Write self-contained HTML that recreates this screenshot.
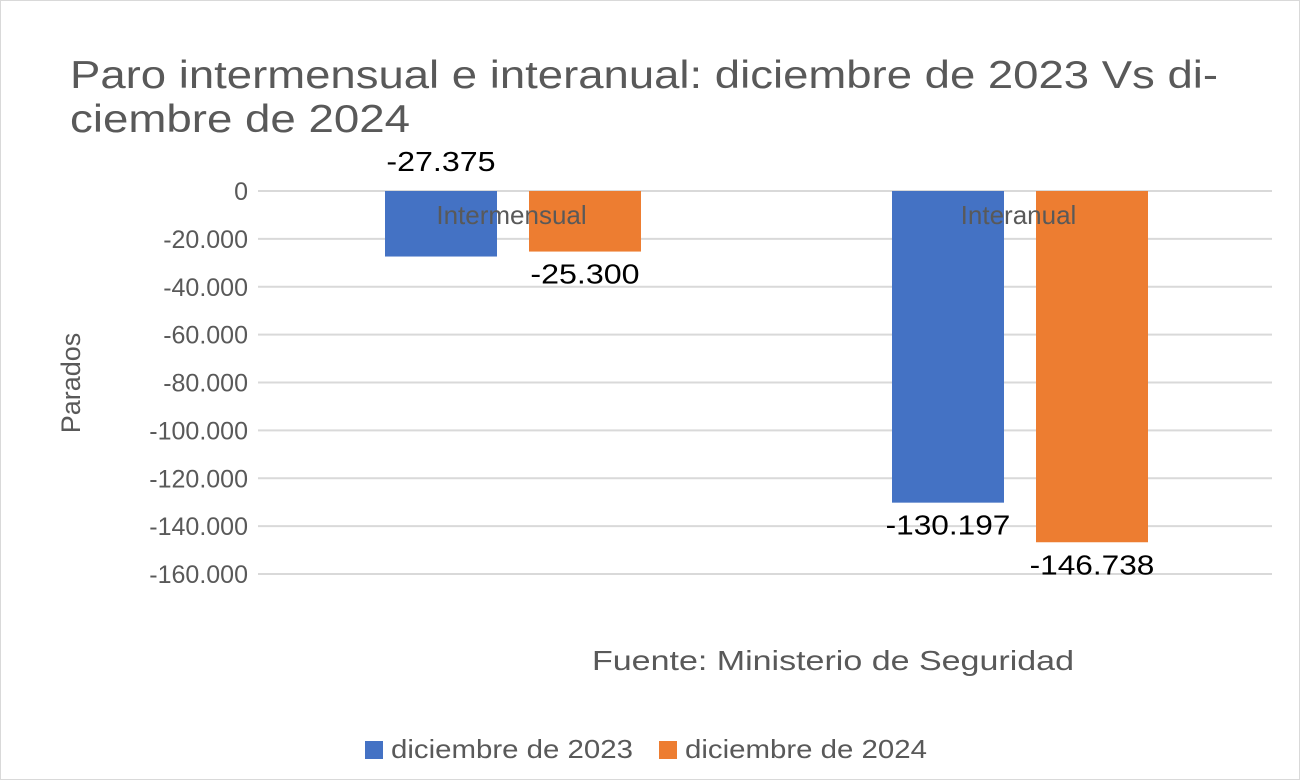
<!DOCTYPE html>
<html><head><meta charset="utf-8"><style>
body{margin:0;background:#fff;}
svg{display:block;font-family:"Liberation Sans",sans-serif;}
</style></head><body>
<svg id="chart" width="1300" height="780" viewBox="0 0 1300 780">
<rect x="0.5" y="0.5" width="1299" height="779" fill="#fff" stroke="#d9d9d9"/>
<text x="70" y="88" font-size="39" fill="#595959" textLength="1148" lengthAdjust="spacingAndGlyphs">Paro intermensual e interanual: diciembre de 2023 Vs di-</text>
<text x="70" y="132" font-size="39" fill="#595959" textLength="340" lengthAdjust="spacingAndGlyphs">ciembre de 2024</text>
<text transform="translate(80,383) rotate(-90)" text-anchor="middle" font-size="27" fill="#595959">Parados</text>
<g id="grid"></g><g id="bars"></g><g id="labels"></g>
<text x="592" y="670" font-size="28" fill="#595959" textLength="482" lengthAdjust="spacingAndGlyphs">Fuente: Ministerio de Seguridad</text>
<g>
<rect x="365" y="741" width="18" height="18" fill="#4472c4"/>
<text x="391" y="758" font-size="26" fill="#595959" textLength="242" lengthAdjust="spacingAndGlyphs">diciembre de 2023</text>
<rect x="659" y="741" width="18" height="18" fill="#ed7d31"/>
<text x="685" y="758" font-size="26" fill="#595959" textLength="242" lengthAdjust="spacingAndGlyphs">diciembre de 2024</text>
</g>
</svg>
<script>
const categories=["Intermensual","Interanual"];
const series2023=[-27375,-130197];
const series2024=[-25300,-146738];
const valueLabels2023=["-27.375","-130.197"];
const valueLabels2024=["-25.300","-146.738"];
const tickValues=[0,-20000,-40000,-60000,-80000,-100000,-120000,-140000,-160000];
const tickLabels=["0","-20.000","-40.000","-60.000","-80.000","-100.000","-120.000","-140.000","-160.000"];
const NS="http://www.w3.org/2000/svg";
const x0=258,x1=1272,y0=191,y1=574,vmin=-160000;
const y=v=>y0+(v/vmin)*(y1-y0);
const bw=(x1-x0)/categories.length;
function mk(t,a,p){const e=document.createElementNS(NS,t);for(const k in a)e.setAttribute(k,a[k]);p.appendChild(e);return e;}
const grid=document.getElementById('grid'),bars=document.getElementById('bars'),labels=document.getElementById('labels');
tickValues.forEach((v,i)=>{
 const l=mk('line',{x1:x0,x2:x1,y1:y(v),y2:y(v),stroke:'#d9d9d9','stroke-width':2},grid);
 
 
 const t=mk('text',{x:248,y:y(v)+9,'text-anchor':'end','font-size':25,fill:'#595959'},grid);
 t.textContent=tickLabels[i];
 
 
});
categories.forEach((c,i)=>{
 const cx=x0+bw*(i+0.5);
 [[series2023,valueLabels2023,'#4472c4',-1,'2023'],[series2024,valueLabels2024,'#ed7d31',1,'2024']].forEach(([s,vl,col,side,nm])=>{
  const bx=side<0?cx-126.5:cx+17.5;
  const r=mk('rect',{x:bx,y:y0,width:112,height:y(s[i])-y0,fill:col},bars);
  
  
  const above=(i===0&&nm==='2023');
  const ly=above?y0-20:y(s[i])+32;
  const t=mk('text',{x:bx+56,y:ly,'text-anchor':'middle','font-size':28,fill:'#000',textLength:vl[i].length*15.6,lengthAdjust:'spacingAndGlyphs'},labels);
  t.textContent=vl[i];
  
  
 });
 const ct=mk('text',{x:cx,y:y0+33,'text-anchor':'middle','font-size':26,fill:'#595959'},labels);
 ct.textContent=c;
 
 
});
</script>
</body></html>
